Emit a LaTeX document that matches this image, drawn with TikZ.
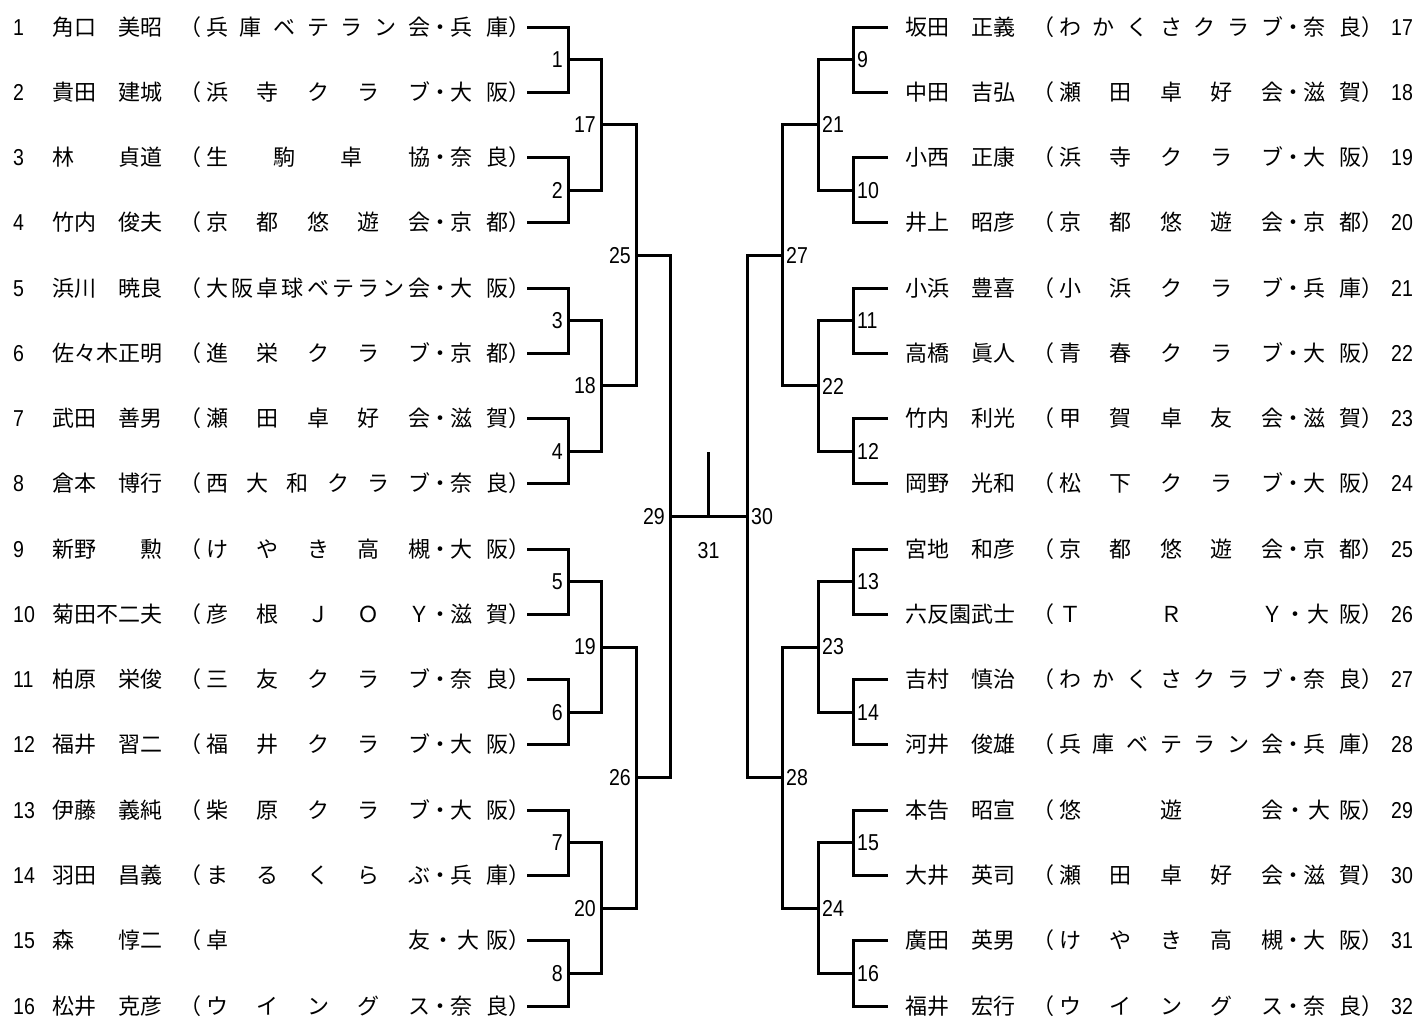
\documentclass[tikz,border=0pt]{standalone}
\usepackage{fontspec}
\newfontfamily\jpfont{Noto Sans CJK JP}
\newfontfamily\numfont[FakeStretch=0.85]{Liberation Sans}
\usetikzlibrary{positioning}

\tikzset{
  bracket/.style = {line width=3pt},
  champline/.style = {line width=2.4pt},
  player/.style  = {anchor=base west, inner sep=0pt,
                    font=\jpfont\fontsize{22}{22}\selectfont},
  seed/.style    = {anchor=base west, inner sep=0pt,
                    font=\numfont\fontsize{23}{23}\selectfont},
  matchno/.style = {inner sep=0pt, font=\numfont\fontsize{23}{23}\selectfont}
}

% spread the characters of a club name over its box
\def\spreadchars#1{\spreadfirst#1\relax}
\def\spreadfirst#1{\ifx\relax#1\else#1\expandafter\spreadnext\fi}
\def\spreadnext#1{\ifx\relax#1\else\hfill#1\expandafter\spreadnext\fi}
\newcommand\entry[4]{%
  \hbox to 108pt{#1\hss}%
  \hbox to 46pt{\hss（\hskip5pt}%
  \hbox to 224pt{\expandafter\spreadchars\expandafter{#2}}%
  \hbox to #4pt{\hss・\hss}%
  \hbox to \dimexpr78pt-#4pt\relax{\expandafter\spreadchars\expandafter{#3}}%
  ）}

\begin{document}
\begin{tikzpicture}[x=1pt, y=-1pt]
  \useasboundingbox (0,0) rectangle (1417,1018);

  % Players, left half
  \foreach \n/\nm/\club/\pref/\dg in {
      1/角口　美昭/兵庫ベテラン会/兵庫/20,
      2/貴田　建城/浜寺クラブ/大阪/20,
      3/林　　貞道/生駒卓協/奈良/20,
      4/竹内　俊夫/京都悠遊会/京都/20,
      5/浜川　暁良/大阪卓球ベテラン会/大阪/20,
      6/佐々木正明/進栄クラブ/京都/20,
      7/武田　善男/瀬田卓好会/滋賀/20,
      8/倉本　博行/西大和クラブ/奈良/20,
      9/新野　　勲/けやき高槻/大阪/20,
      10/菊田不二夫/彦根ＪＯＹ/滋賀/20,
      11/柏原　栄俊/三友クラブ/奈良/20,
      12/福井　習二/福井クラブ/大阪/20,
      13/伊藤　義純/柴原クラブ/大阪/20,
      14/羽田　昌義/まるくらぶ/兵庫/20,
      15/森　　惇二/卓友/大阪/27,
      16/松井　克彦/ウイングス/奈良/20} {
    \pgfmathsetmacro\yy{27+(\n-1)*65.27}
    \node[seed] (s\n) at (13,\yy+8) {\n};
    \node[player] (t\n) at (52,\yy+8) {\entry{\nm}{\club}{\pref}{\dg}};
    \coordinate (a\n) at (527,\yy);
  }

  % Players, right half
  \foreach \n/\nm/\club/\pref/\dg in {
      17/坂田　正義/わかくさクラブ/奈良/20,
      18/中田　吉弘/瀬田卓好会/滋賀/20,
      19/小西　正康/浜寺クラブ/大阪/20,
      20/井上　昭彦/京都悠遊会/京都/20,
      21/小浜　豊喜/小浜クラブ/兵庫/20,
      22/高橋　眞人/青春クラブ/大阪/20,
      23/竹内　利光/甲賀卓友会/滋賀/20,
      24/岡野　光和/松下クラブ/大阪/20,
      25/宮地　和彦/京都悠遊会/京都/20,
      26/六反園武士/ＴＲＹ/大阪/24,
      27/吉村　慎治/わかくさクラブ/奈良/20,
      28/河井　俊雄/兵庫ベテラン会/兵庫/20,
      29/本告　昭宣/悠遊会/大阪/25,
      30/大井　英司/瀬田卓好会/滋賀/20,
      31/廣田　英男/けやき高槻/大阪/20,
      32/福井　宏行/ウイングス/奈良/20} {
    \pgfmathsetmacro\yy{27+(\n-17)*65.27}
    \node[player] (t\n) at (905,\yy+8) {\entry{\nm}{\club}{\pref}{\dg}};
    \node[seed] (s\n) at (1391,\yy+8) {\n};
    \coordinate (a\n) at (888,\yy);
  }

  % Match points
  \foreach \i in {1,...,8} {
    \pgfmathsetmacro\yy{27+(2*\i-1.5)*65.27}
    \pgfmathtruncatemacro\r{\i+8}
    \coordinate (m\i) at (568,\yy);
    \coordinate (m\r) at (853,\yy);
  }
  \foreach \i in {1,...,4} {
    \pgfmathsetmacro\yy{27+(4*\i-2.5)*65.27}
    \pgfmathtruncatemacro\l{\i+16}
    \pgfmathtruncatemacro\r{\i+20}
    \coordinate (m\l) at (601,\yy);
    \coordinate (m\r) at (818,\yy);
  }
  \foreach \i in {1,2} {
    \pgfmathsetmacro\yy{27+(8*\i-4.5)*65.27}
    \pgfmathtruncatemacro\l{\i+24}
    \pgfmathtruncatemacro\r{\i+26}
    \coordinate (m\l) at (636,\yy);
    \coordinate (m\r) at (782,\yy);
  }
  \coordinate (m29) at (670,516.5);
  \coordinate (m30) at (747,516.5);
  \coordinate (m31) at (708.5,516.5);
  \coordinate (champ) at (708.5,452);

  % Brackets, left half
  \foreach \w/\p/\q in {1/a1/a2, 2/a3/a4, 3/a5/a6, 4/a7/a8,
      5/a9/a10, 6/a11/a12, 7/a13/a14, 8/a15/a16,
      17/m1/m2, 18/m3/m4, 19/m5/m6, 20/m7/m8,
      25/m17/m18, 26/m19/m20, 29/m25/m26} {
    \draw[bracket] (\p) -| (m\w) |- (\q);
    \node[matchno, left=5pt of m\w] (l\w) {\w};
  }

  % Brackets, right half
  \foreach \w/\p/\q in {9/a17/a18, 10/a19/a20, 11/a21/a22, 12/a23/a24,
      13/a25/a26, 14/a27/a28, 15/a29/a30, 16/a31/a32,
      21/m9/m10, 22/m11/m12, 23/m13/m14, 24/m15/m16,
      27/m21/m22, 28/m23/m24, 30/m27/m28} {
    \draw[bracket] (\p) -| (m\w) |- (\q);
    \node[matchno, right=4pt of m\w] (l\w) {\w};
  }

  % Final
  \draw[bracket] (m29) -- (m30);
  \draw[champline] (m31) -- (champ);
  \node[matchno, below=26pt of m31] (l31) {31};
\end{tikzpicture}
\end{document}
